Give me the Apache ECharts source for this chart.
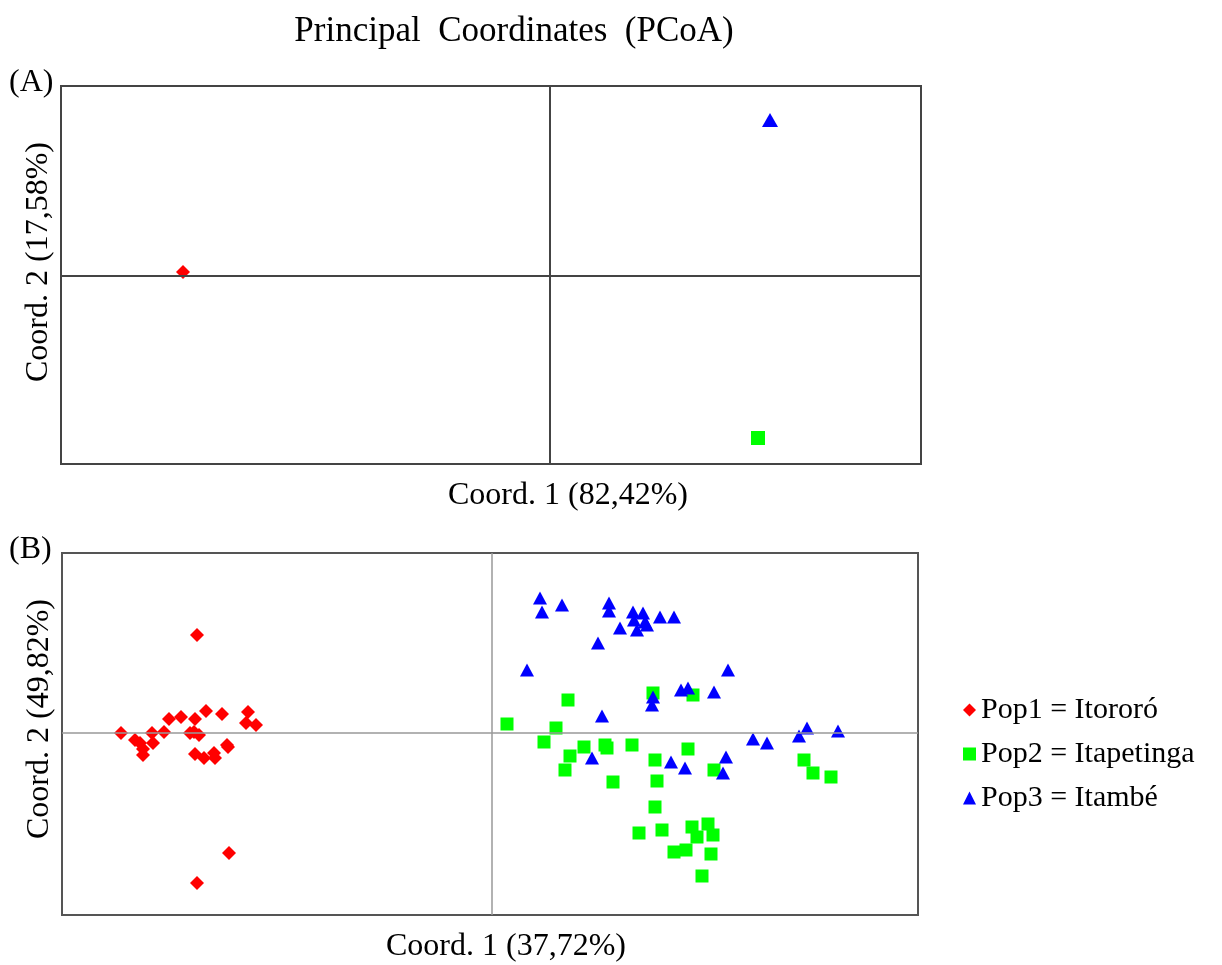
<!DOCTYPE html>
<html>
<head>
<meta charset="utf-8">
<title>PCoA</title>
<script src="https://cdn.jsdelivr.net/npm/echarts@6/dist/echarts.min.js"></script>
<style>
  html, body { margin: 0; padding: 0; background: #fff; }
  #main { width: 1222px; height: 965px; }
</style>
</head>
<body>
<div id="main"></div>
<script>
// 标签文字
var mainTitle = 'Principal  Coordinates  (PCoA)';
var popNames = ['Pop1 = Itororó', 'Pop2 = Itapetinga', 'Pop3 = Itambé'];
var axisNamesA = ['Coord. 1 (82,42%)', 'Coord. 2 (17,58%)'];
var axisNamesB = ['Coord. 1 (37,72%)', 'Coord. 2 (49,82%)'];

// (A) 各群体的中心点 [coord1, coord2]
var popA1 = [[-3.67, 0.04]];
var popA2 = [[2.08, -1.62]];
var popA3 = [[2.20, 1.56]];

// (B) 个体坐标
var popB1 = [
  [-2.95, 0.98], [-3.71, 0.00], [-3.57, -0.07], [-3.52, -0.10], [-3.49, -0.16],
  [-3.49, -0.22], [-3.40, 0.00], [-3.39, -0.10], [-3.28, 0.01], [-3.23, 0.14],
  [-3.11, 0.16], [-2.97, 0.14], [-2.86, 0.22], [-2.70, 0.19], [-2.44, 0.21],
  [-2.46, 0.10], [-2.36, 0.08], [-3.02, 0.00], [-2.98, 0.01], [-2.93, -0.02],
  [-2.97, -0.21], [-2.88, -0.25], [-2.78, -0.20], [-2.77, -0.25], [-2.65, -0.12],
  [-2.64, -0.14], [-2.63, -1.20], [-2.95, -1.50]
];
var popB2 = [
  [0.15, 0.09], [0.76, 0.33], [0.64, 0.05], [0.52, -0.09], [1.61, 0.40],
  [2.01, 0.38], [0.78, -0.23], [0.92, -0.14], [1.13, -0.12], [1.15, -0.15],
  [1.40, -0.12], [0.73, -0.37], [1.63, -0.27], [1.96, -0.16], [1.21, -0.49],
  [1.65, -0.48], [1.63, -0.74], [1.47, -1.00], [1.70, -0.97], [1.82, -1.19],
  [1.94, -1.17], [2.00, -0.94], [2.05, -1.04], [2.16, -0.91], [2.21, -1.02],
  [2.19, -1.21], [2.10, -1.43], [2.22, -0.37], [3.12, -0.27], [3.21, -0.40],
  [3.39, -0.44]
];
var popB3 = [
  [0.48, 1.35], [0.50, 1.21], [0.70, 1.28], [1.17, 1.30], [1.17, 1.22],
  [1.28, 1.05], [1.41, 1.21], [1.42, 1.13], [1.45, 1.03], [1.51, 1.20],
  [1.53, 1.11], [1.55, 1.08], [1.68, 1.16], [1.82, 1.16], [1.06, 0.90],
  [0.35, 0.63], [1.61, 0.36], [1.60, 0.28], [1.89, 0.43], [1.96, 0.45],
  [2.22, 0.41], [2.36, 0.63], [1.10, 0.17], [1.00, -0.25], [1.79, -0.29],
  [1.93, -0.35], [2.34, -0.24], [2.31, -0.40], [2.61, -0.06], [2.75, -0.10],
  [3.07, -0.03], [3.15, 0.05], [3.46, 0.02]
];

// 坐标轴范围
var rangeA = { xMin: -4.89, xMax: 3.71, yMin: -1.88, yMax: 1.90 };
var rangeB = { xMin: -4.30, xMax: 4.26, yMin: -1.82, yMax: 1.80 };

var popColors = ['#ff0000', '#00ff00', '#0000ff'];
var serif = '"Liberation Serif", "Times New Roman", serif';

var chart = echarts.init(document.getElementById('main'));

function valueAxis(idx, name, range, isX, pad, gap) {
  return {
    type: 'value',
    gridIndex: idx,
    min: isX ? range.xMin : range.yMin,
    max: isX ? range.xMax : range.yMax,
    name: name,
    nameLocation: 'middle',
    nameGap: gap,
    nameTextStyle: { fontFamily: serif, fontSize: 32, color: '#000', padding: pad },
    axisLine: { show: false },
    axisTick: { show: false },
    axisLabel: { show: false },
    splitLine: { show: false }
  };
}

// 十字线 (x=0, y=0)
function crossLine(color, width) {
  return {
    silent: true,
    symbol: ['none', 'none'],
    label: { show: false },
    lineStyle: { color: color, width: width, type: 'solid' },
    data: [{ xAxis: 0 }, { yAxis: 0 }]
  };
}

function scatter(name, idx, data, symbol, size, color, withLines) {
  var s = {
    name: name,
    type: 'scatter',
    xAxisIndex: idx,
    yAxisIndex: idx,
    data: data,
    symbol: symbol,
    symbolSize: size,
    itemStyle: { color: color, opacity: 1 },
    z: 3
  };
  if (withLines) s.markLine = withLines;
  return s;
}

chart.setOption({
  animation: false,
  backgroundColor: '#fff',
  title: {
    text: mainTitle,
    left: 509,
    textAlign: 'center',
    top: 9,
    textStyle: { fontFamily: serif, fontSize: 35, fontWeight: 'normal', color: '#000' }
  },
  graphic: [
    { type: 'text', left: 9, top: 67, style: { text: '(A)', font: '32px ' + serif, fill: '#000' } },
    { type: 'text', left: 9, top: 534, style: { text: '(B)', font: '32px ' + serif, fill: '#000' } }
  ],
  legend: {
    orient: 'vertical',
    left: 958,
    top: 690,
    itemWidth: 13,
    itemHeight: 13,
    itemGap: 14,
    textStyle: { fontFamily: serif, fontSize: 30, color: '#000' },
    data: [
      { name: popNames[0], icon: 'diamond' },
      { name: popNames[1], icon: 'rect' },
      { name: popNames[2], icon: 'triangle' }
    ]
  },
  grid: [
    { left: 61, right: 301, top: 86, bottom: 501, show: true, borderColor: '#444', borderWidth: 2 },
    { left: 62, right: 304, top: 553, bottom: 50, show: true, borderColor: '#555', borderWidth: 2 }
  ],
  xAxis: [
    valueAxis(0, axisNamesA[0], rangeA, true, [0, 0, 0, 154], 16),
    valueAxis(1, axisNamesB[0], rangeB, true, [0, 0, 0, 32], 16)
  ],
  yAxis: [
    valueAxis(0, axisNamesA[1], rangeA, false, [0, 0, 0, 26], 6),
    valueAxis(1, axisNamesB[1], rangeB, false, [0, 0, 0, 30], 6)
  ],
  series: [
    scatter(popNames[0], 0, popA1, 'diamond', [14, 14], popColors[0], crossLine('#444', 2)),
    scatter(popNames[1], 0, popA2, 'rect', [14, 14], popColors[1]),
    scatter(popNames[2], 0, popA3, 'triangle', [16, 14], popColors[2]),
    scatter(popNames[0], 1, popB1, 'diamond', [14, 14], popColors[0], crossLine('#999', 1.5)),
    scatter(popNames[1], 1, popB2, 'rect', [13, 13], popColors[1]),
    scatter(popNames[2], 1, popB3, 'triangle', [14, 13], popColors[2])
  ]
});

window.addEventListener('resize', function () { chart.resize(); });
</script>
</body>
</html>
